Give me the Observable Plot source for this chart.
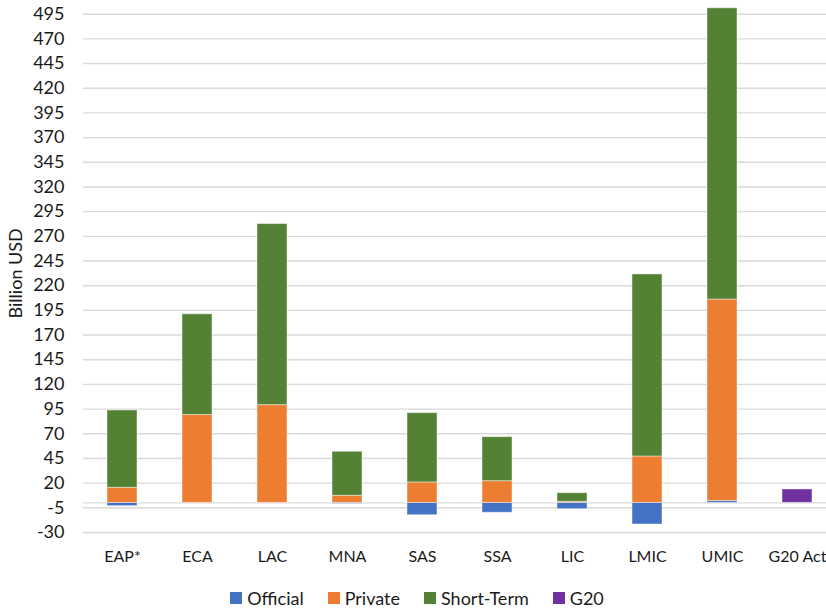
<!DOCTYPE html>
<html>
<head>
<meta charset="utf-8">
<script src="https://cdn.jsdelivr.net/npm/d3@7"></script>
<script src="https://cdn.jsdelivr.net/npm/@observablehq/plot@0.6"></script>
<style>
  html, body { margin: 0; padding: 0; background: #fff; }
  body { width: 826px; height: 611px; overflow: hidden; font-family: Lato, "Open Sans", sans-serif; }
  #chart svg text { fill: #1a1a1a; }
  #chart svg [aria-label="y-axis tick label"] text { font-size: 18px; }
  #chart svg [aria-label="x-axis tick label"] text { font-size: 16px; }
  #chart svg [aria-label="y-axis label"] text { font-size: 18px; }
  #legend { display: flex; justify-content: center; gap: 24px; margin-top: 12px; font-size: 18px; color: #1a1a1a; padding-left: 8px; }
  #legend span.item { display: flex; align-items: center; gap: 5px; }
  #legend span.sw { width: 12px; height: 12px; display: inline-block; }
</style>
</head>
<body>
<div id="chart"></div>
<div id="legend"></div>
<script>
const categories = ["EAP*", "ECA", "LAC", "MNA", "SAS", "SSA", "LIC", "LMIC", "UMIC", "G20 Act"];
const seriesNames = ["Official", "Private", "Short-Term", "G20"];
const seriesColors = ["#4472C4", "#ED7D31", "#548235", "#7030A0"];
const official  = [-3.3, 0, 0, -1, -12.5, -10, -6.4, -21.9, 2, 0];
const privateV  = [15.3, 89, 99, 7.2, 20.7, 22, 1.1, 47, 204, 0];
const shortTerm = [78.3, 102, 183.4, 44.6, 70.2, 44.6, 8.7, 184.4, 295, 0];
const g20       = [0, 0, 0, 0, 0, 0, 0, 0, 0, 13.6];
const yTicks = d3.range(-30, 496, 25);

const seriesValues = [official, privateV, shortTerm, g20];
const data = [];
seriesNames.forEach((s, i) => {
  categories.forEach((c, j) => {
    const v = seriesValues[i][j];
    if (v !== 0) data.push({category: c, series: s, value: v});
  });
});

const chart = Plot.plot({
  width: 826,
  height: 575,
  marginLeft: 83,
  marginRight: 0,
  marginTop: 13.7,
  marginBottom: 43,
  style: {fontFamily: "Lato, 'Open Sans', sans-serif", fontSize: "16px", color: "#1a1a1a"},
  x: {domain: categories, range: [83, 836], paddingInner: 0.6, paddingOuter: 0.3, label: null},
  y: {domain: [-30, 495], label: "Billion USD"},
  color: {domain: seriesNames, range: seriesColors},
  marks: [
    Plot.ruleY(yTicks, {stroke: "#d9d9d9", strokeWidth: 1.4}),
    Plot.ruleY([0], {stroke: "#d9d9d9", strokeWidth: 1.4}),
    Plot.barY(data, Plot.stackY({order: seriesNames}, {
      x: "category", y: "value", fill: "series", z: "series",
      stroke: "#ffffff", strokeOpacity: 0.45, strokeWidth: 1
    })),
    Plot.axisX({tickSize: 0, tickPadding: 18, label: null}),
    Plot.axisY({ticks: yTicks, tickFormat: d => d, tickSize: 0, tickPadding: 19, label: "Billion USD", labelAnchor: "center", labelArrow: "none", labelOffset: 74})
  ]
});
document.getElementById("chart").appendChild(chart);

const legend = document.getElementById("legend");
seriesNames.forEach((s, i) => {
  const item = document.createElement("span");
  item.className = "item";
  const sw = document.createElement("span");
  sw.className = "sw";
  sw.style.background = seriesColors[i];
  const t = document.createElement("span");
  t.textContent = s;
  item.appendChild(sw);
  item.appendChild(t);
  legend.appendChild(item);
});
</script>
</body>
</html>
